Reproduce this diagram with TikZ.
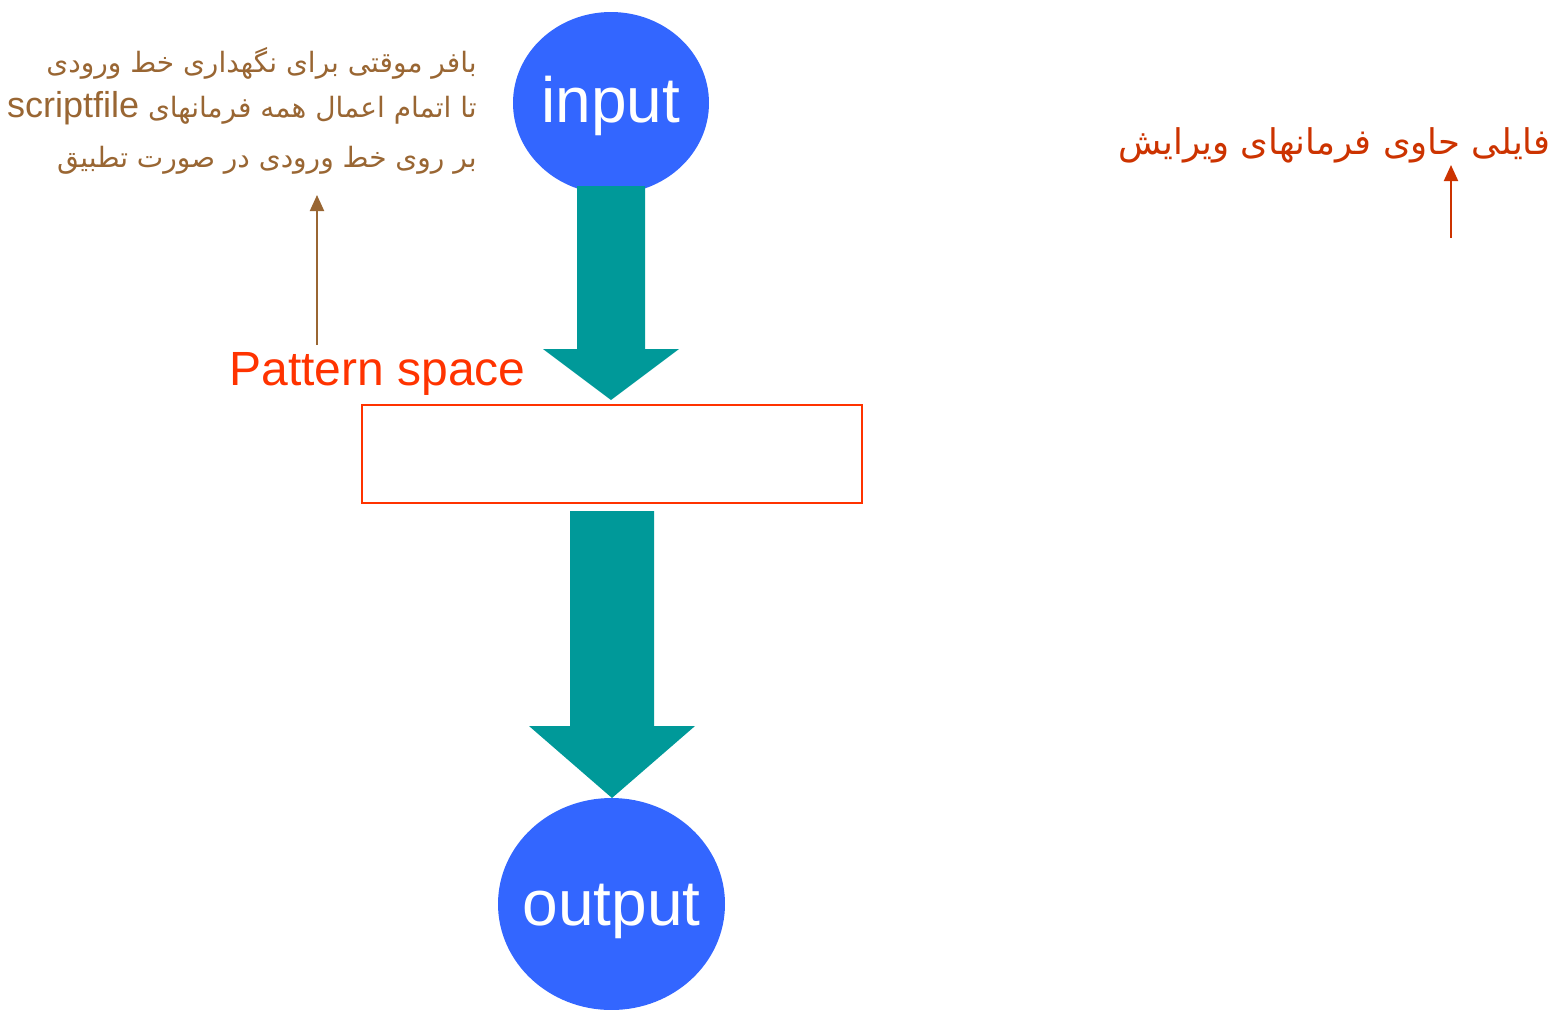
\documentclass[tikz,border=0pt]{standalone}
\usepackage{fontspec}
\setmainfont{Liberation Sans}
\newfontfamily\arabicfont[Script=Arabic]{DejaVu Sans}
\TeXXeTstate=1
\usetikzlibrary{shapes.geometric,arrows.meta}
\definecolor{blueC}{HTML}{3366FF}
\definecolor{tealC}{HTML}{009999}
\definecolor{redC}{HTML}{FF3300}
\definecolor{brownC}{HTML}{996633}
\definecolor{rustC}{HTML}{CC3300}
\begin{document}
\begin{tikzpicture}[x=0.5pt,y=-0.5pt,
  blob/.style={ellipse,fill=blueC,inner sep=0pt},
  blobtext/.style={text=white,font=\fontsize{32}{36}\selectfont,inner sep=0pt},
  blockarrow/.style={fill=tealC,draw=none},
  pbox/.style={rectangle,draw=redC,line width=1pt,minimum width=250pt,minimum height=49pt,inner sep=0pt},
  note/.style={inner sep=0pt,anchor=east},
  ptr/.style={line width=1pt,-{Triangle[width=7pt,length=8pt]}}]
\useasboundingbox (0,0) rectangle (1555,1009);
\node[blob,minimum width=98pt,minimum height=91pt] (in) at (611,103) {};
\node[blobtext] (intext) at (611,106) {input};
\node[blob,minimum width=113.5pt,minimum height=106pt] (out) at (611.5,904) {};
\node[blobtext] (outtext) at (611.5,911) {output};
\node[pbox] (ps) at (612,454) {};
\fill[blockarrow] (577,186) -- (645,186) -- (645,349) -- (679,349) -- (611,400) -- (543,349) -- (577,349) -- cycle;
\fill[blockarrow] (570,511) -- (654,511) -- (654,726) -- (695,726) -- (612,798) -- (529,726) -- (570,726) -- cycle;
\node[inner sep=0pt,anchor=west,text=redC,font=\fontsize{24}{28}\selectfont] (pslabel) at (229,374) {Pattern space};
\node[note,text=brownC,font=\arabicfont\fontsize{14}{18}\selectfont] (l1) at (477,63) {\beginR بافر موقتی برای نگهداری خط ورودی\endR};
\node[note,text=brownC,font=\arabicfont\fontsize{14}{18}\selectfont] (l2) at (477,108) {\beginR تا اتمام اعمال همه فرمانهای \beginL{\rmfamily\fontsize{18}{20}\selectfont scriptfile}\endL\endR};
\node[note,text=brownC,font=\arabicfont\fontsize{14}{18}\selectfont] (l3) at (477,160) {\beginR بر روی خط ورودی در صورت  تطبیق\endR};
\node[note,text=rustC,font=\arabicfont\fontsize{17.7}{20}\selectfont] (r1) at (1551,145) {\beginR فایلی حاوی فرمانهای ویرایش\endR};
\coordinate (lstart) at (317,345);
\coordinate (lend) at (317,195);
\coordinate (rstart) at (1451,238);
\coordinate (rend) at (1451,165);
\draw[ptr,draw=brownC,fill=brownC] (lstart) -- (lend);
\draw[ptr,draw=rustC,fill=rustC] (rstart) -- (rend);
\end{tikzpicture}
\end{document}
